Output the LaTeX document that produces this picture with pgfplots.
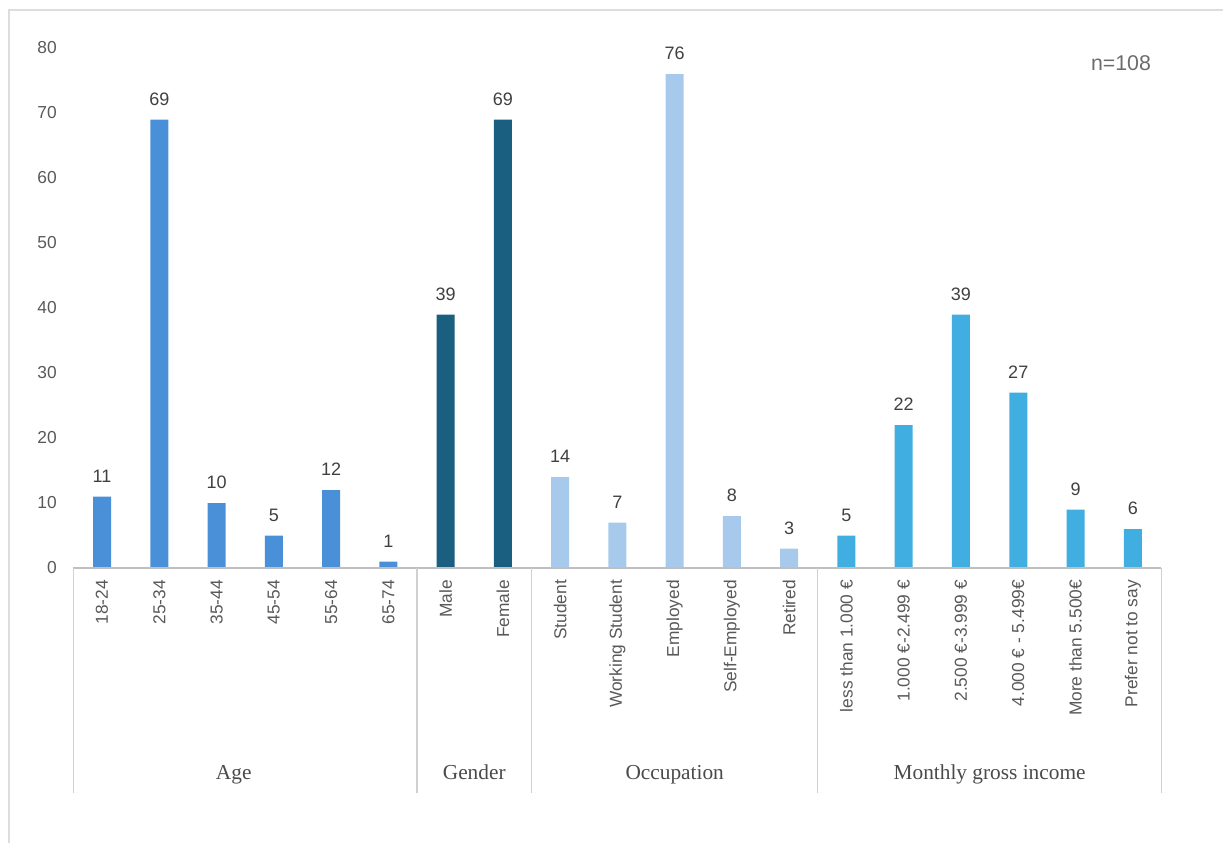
\documentclass[border=0pt]{standalone}
\usepackage{fontspec}
\setmainfont{Liberation Sans}
\newfontfamily\groupfont{Liberation Serif}
\usepackage{pgfplots}
\pgfplotsset{compat=1.18}

\definecolor{agecol}{HTML}{4A90D9}
\definecolor{gendercol}{HTML}{1A5E80}
\definecolor{occcol}{HTML}{A6C9EC}
\definecolor{inccol}{HTML}{40AEE0}
\definecolor{axiscol}{HTML}{BFBFBF}
\definecolor{sepcol}{HTML}{D0D0D0}
\definecolor{framecol}{HTML}{DDDDDD}
\definecolor{tickcol}{HTML}{595959}
\definecolor{valcol}{HTML}{404040}
\definecolor{groupcol}{HTML}{4A4A4A}

\tikzset{group label/.style={font=\groupfont\fontsize{16}{18}\selectfont, text=groupcol, anchor=base, yshift=-158.25pt}}

\begin{document}
\begin{tikzpicture}
\path[use as bounding box] (0,0) rectangle (917.25pt,632.25pt);
\draw[framecol, line width=0.8pt] (6.75pt,0pt) -- (6.75pt,624.75pt) -- (917.25pt,624.75pt);
\begin{axis}[
  at={(55.05pt,206.25pt)}, anchor=south west,
  scale only axis, width=816pt, height=390pt,
  xmin=-0.5, xmax=18.5, ymin=0, ymax=80,
  ytick={0,10,...,80},
  xtick={0,...,18},
  xticklabels={18-24,25-34,35-44,45-54,55-64,65-74,Male,Female,Student,Working Student,Employed,Self-Employed,Retired,less than 1.000 €,1.000 €-2.499 €,2.500 €-3.999 €,4.000 € - 5.499€,More than 5.500€,Prefer not to say},
  axis line style={draw=none},
  tick style={draw=none},
  major tick length=0pt,
  /pgf/number format/assume math mode=true,
  yticklabel style={font=\fontsize{13}{15}\selectfont, text=tickcol},
  yticklabel shift=9pt,
  xticklabel style={rotate=90, anchor=east, font=\fontsize{13}{15}\selectfont, text=tickcol},
  xticklabel shift=5.5pt,
  clip=false,
  ybar, bar width=13.5pt,
  nodes near coords,
  every node near coord/.append style={font=\fontsize{13.5}{15}\selectfont, text=valcol, yshift=7pt},
]
% Age
\addplot[fill=agecol, draw=none, bar shift=0pt] coordinates {(0,11) (1,69) (2,10) (3,5) (4,12) (5,1)};
% Gender
\addplot[fill=gendercol, draw=none, bar shift=0pt] coordinates {(6,39) (7,69)};
% Occupation
\addplot[fill=occcol, draw=none, bar shift=0pt] coordinates {(8,14) (9,7) (10,76) (11,8) (12,3)};
% Monthly gross income
\addplot[fill=inccol, draw=none, bar shift=0pt] coordinates {(13,5) (14,22) (15,39) (16,27) (17,9) (18,6)};

% category axis and group separators
\draw[axiscol, line width=0.8pt] (axis cs:-0.5,0) -- (axis cs:18.5,0);
\pgfplotsinvokeforeach{-0.5,5.5,7.5,12.5,18.5}{
  \draw[sepcol, line width=0.8pt] (axis cs:#1,0) -- ++(0pt,-168.75pt);
}
\node[group label] at (axis cs:2.3,0) {Age};
\node[group label] at (axis cs:6.5,0) {Gender};
\node[group label] at (axis cs:10,0) {Occupation};
\node[group label] at (axis cs:15.5,0) {Monthly gross income};
\end{axis}
\node[font=\fontsize{16}{18}\selectfont, text=gray!85!black] at (840.75pt,585pt) {n=108};
\end{tikzpicture}
\end{document}
